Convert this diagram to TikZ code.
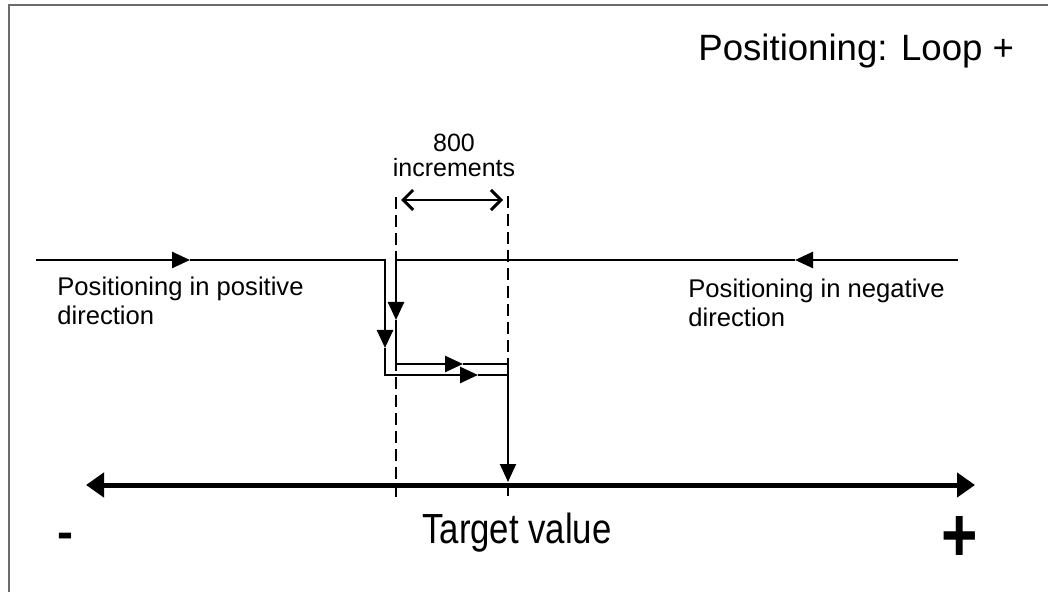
\documentclass[tikz,border=0pt]{standalone}
\usepackage{fontspec}
\setmainfont{Liberation Sans}
\usetikzlibrary{arrows.meta}

\tikzset{
  track/.style={line width=1.3pt, black},
  midtip/.style={-{Triangle[length=9pt,width=8pt]}},
  guide/.style={line width=1pt, dash pattern=on 6pt off 3pt},
  dirlabel/.style={font=\fontsize{12.8}{14.5}\selectfont, align=left, anchor=north west, inner sep=0pt},
  bigtext/.style={font=\fontsize{18.3}{22}\selectfont, inner sep=0pt},
  signtext/.style={font=\fontsize{24}{28}\selectfont\bfseries, inner sep=0pt},
}

\begin{document}
\begin{tikzpicture}[x=0.5pt,y=-0.5pt]
  \useasboundingbox (0,0) rectangle (1048,592);
  % frame
  \draw[gray!85!black, line width=1pt] (9,592) -- (9,5) -- (1048,5);

  % title
  \node[bigtext, anchor=base west] (title) at (698,61) {Positioning: Loop +};

  % path in positive direction
  \coordinate (pa) at (36,260);
  \coordinate (pb) at (190,260);
  \coordinate (pc) at (385,260);
  \coordinate (pd) at (385,348);
  \coordinate (pe) at (385,375);
  \coordinate (pf) at (478,375);
  \coordinate (pg) at (508,375);
  \draw[track, midtip] (pa) -- (pb);
  \draw[track, midtip] (pb) -- (pc) -- (pd);
  \draw[track, midtip] (pd) -- (pe) -- (pf);
  \draw[track] (pf) -- (pg);

  % path in negative direction
  \coordinate (na) at (958,260);
  \coordinate (nb) at (795,260);
  \coordinate (nc) at (396,260);
  \coordinate (nd) at (396,320);
  \coordinate (ne) at (396,364);
  \coordinate (nf) at (463,364);
  \coordinate (ng) at (508,364);
  \draw[track, midtip] (na) -- (nb);
  \draw[track, midtip] (nb) -- (nc) -- (nd);
  \draw[track, midtip] (nd) -- (ne) -- (nf);
  \draw[track] (nf) -- (ng);

  % final approach to target
  \coordinate (ta) at (508,482);
  \draw[line width=1pt, -{Triangle[length=9pt,width=8pt]}] (ng) -- (ta);

  % dashed guides
  \coordinate (ga) at (396,197);
  \coordinate (gb) at (396,500);
  \coordinate (gc) at (508,196);
  \coordinate (gd) at (508,497);
  \draw[guide] (ga) -- (gb);
  \draw[guide] (gc) -- (gd);

  % increments
  \coordinate (wa) at (401,200);
  \coordinate (wb) at (503,200);
  \draw[line width=1pt, {Straight Barb[length=5pt,width=10pt,line width=1.5pt]}-{Straight Barb[length=5pt,width=10pt,line width=1.5pt]}] (wa) -- (wb);
  \node[font=\fontsize{12.5}{12.5}\selectfont, align=center, inner sep=0pt, anchor=base] (incr) at (454,177) {800\\increments};

  % target axis
  \coordinate (aa) at (86,485);
  \coordinate (ab) at (975,485);
  \draw[line width=2.5pt, {Triangle[length=9pt,width=12pt]}-{Triangle[length=9pt,width=12pt]}] (aa) -- (ab);
  \node[bigtext, anchor=base] (target) at (517,543) {\scalebox{0.95}[1.15]{Target value}};
  \node[signtext] (minus) at (65,541) {-};
  \node[signtext] (plus) at (960,539) {\scalebox{1.3}[1.6]{+}};

  % labels
  \node[dirlabel] (poslbl) at (57,277) {Positioning in positive\\direction};
  \node[dirlabel] (neglbl) at (688,279) {Positioning in negative\\direction};
\end{tikzpicture}
\end{document}
